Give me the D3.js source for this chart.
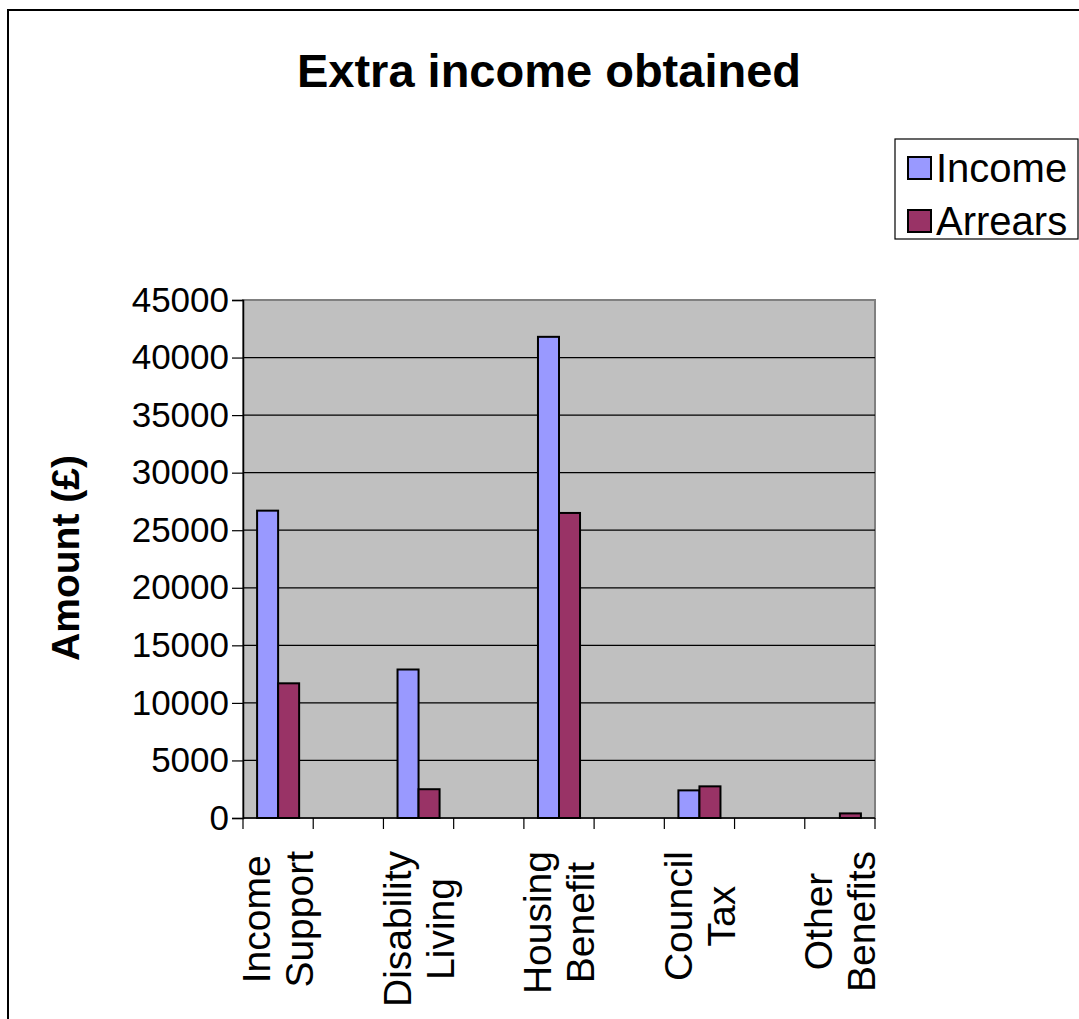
<!DOCTYPE html>
<html>
<head>
<meta charset="utf-8">
<script src="https://cdn.jsdelivr.net/npm/d3@7"></script>
<style>
  html, body { margin: 0; padding: 0; background: #ffffff; }
  svg { display: block; font-family: Arial, "Liberation Sans", sans-serif; }
</style>
</head>
<body>
<svg id="chart" width="1079" height="1019"></svg>
<script>
// ---- data ----
const categories = ["Income Support", "", "Disability Living", "", "Housing Benefit", "", "Council Tax", "", "Other Benefits"];
const categoryLines = [["Income", "Support"], [], ["Disability", "Living"], [], ["Housing", "Benefit"], [], ["Council", "Tax"], [], ["Other", "Benefits"]];
const seriesNames = ["Income", "Arrears"];
const incomeValues = [26700, null, 12900, null, 41800, null, 2400, null, 0];
const arrearsValues = [11700, null, 2500, null, 26500, null, 2750, null, 400];
const yTicks = [0, 5000, 10000, 15000, 20000, 25000, 30000, 35000, 40000, 45000];
const seriesColors = ["#9999FF", "#993366"];
const titleText = "Extra income obtained";
const yTitle = "Amount (£)";

// ---- layout ----
const plot = { left: 243, right: 875, top: 300, bottom: 818 };
const svg = d3.select("#chart");

// outer chart border
svg.append("rect").attr("x", 8).attr("y", 10).attr("width", 1200).attr("height", 1200)
  .attr("fill", "#ffffff").attr("stroke", "#000").attr("stroke-width", 2);

const idx = d3.range(categories.length);
const x = d3.scaleBand().domain(idx).range([plot.left, plot.right]).padding(0);
const xs = d3.scaleBand().domain(seriesNames).range([0, x.bandwidth()]).paddingInner(0).paddingOuter(0.67);
const y = d3.scaleLinear().domain([0, 45000]).range([plot.bottom, plot.top]);

// plot area
svg.append("rect").attr("x", plot.left).attr("y", plot.top)
  .attr("width", plot.right - plot.left).attr("height", plot.bottom - plot.top)
  .attr("fill", "#C0C0C0").attr("stroke", "#808080").attr("stroke-width", 2);

// gridlines
svg.append("g").selectAll("line").data(yTicks.filter(t => t > 0 && t < 45000)).join("line")
  .attr("x1", plot.left).attr("x2", plot.right)
  .attr("y1", d => y(d)).attr("y2", d => y(d))
  .attr("stroke", "#000").attr("stroke-width", 1.2);

// bars
const rows = idx.map(i => ({ i, vals: [incomeValues[i], arrearsValues[i]] }));
const gBars = svg.append("g");
rows.forEach(r => {
  r.vals.forEach((v, s) => {
    if (v === null || v === 0) return;
    gBars.append("rect")
      .attr("x", x(r.i) + xs(seriesNames[s]))
      .attr("y", y(v))
      .attr("width", xs.bandwidth())
      .attr("height", y(0) - y(v))
      .attr("fill", seriesColors[s])
      .attr("stroke", "#000").attr("stroke-width", 2);
  });
});

// y axis
const yAxis = d3.axisLeft(y).tickValues(yTicks).tickSize(11).tickPadding(3).tickFormat(d3.format("d"));
const gy = svg.append("g").attr("transform", `translate(${plot.left},0)`).call(yAxis);
gy.select(".domain").attr("stroke", "#000").attr("stroke-width", 1.5);
gy.selectAll(".tick line").attr("stroke", "#000").attr("stroke-width", 1.2);
gy.selectAll(".tick text").attr("font-size", 35).attr("fill", "#000").attr("font-family", "Arial, 'Liberation Sans', sans-serif");

// x axis (ticks at band boundaries)
const edges = idx.map(i => x(i)).concat([plot.right]);
const gx = svg.append("g");
gx.append("line").attr("x1", plot.left).attr("x2", plot.right)
  .attr("y1", plot.bottom).attr("y2", plot.bottom).attr("stroke", "#000").attr("stroke-width", 1.5);
gx.selectAll(".xt").data(edges).join("line").attr("class", "xt")
  .attr("x1", d => d).attr("x2", d => d)
  .attr("y1", plot.bottom).attr("y2", plot.bottom + 11)
  .attr("stroke", "#000").attr("stroke-width", 1.2);

// category labels (rotated, two lines centered)
const catFont = 39, lineH = 43, labelTop = 851;
idx.forEach(i => {
  const lines = categoryLines[i];
  if (!lines.length) return;
  const cx = x(i) + x.bandwidth() / 2;
  const g = svg.append("g");
  const texts = lines.map((t, k) => g.append("text")
    .attr("font-size", catFont).attr("text-anchor", "middle").attr("dy", "0.35em").text(t));
  const maxW = d3.max(texts, t => t.node().getComputedTextLength());
  const cy = labelTop + maxW / 2;
  texts.forEach((t, k) => {
    const lx = cx + (k - (lines.length - 1) / 2) * lineH;
    t.attr("transform", `translate(${lx},${cy}) rotate(-90)`);
  });
});

// title
svg.append("text").attr("x", 549).attr("y", 87).attr("text-anchor", "middle")
  .attr("font-size", 47).attr("font-weight", "bold").text(titleText);

// y axis title
svg.append("text").attr("transform", "translate(79,558) rotate(-90)")
  .attr("text-anchor", "middle").attr("font-size", 39).attr("font-weight", "bold").text(yTitle);

// legend
const lg = svg.append("g");
lg.append("rect").attr("x", 895).attr("y", 139).attr("width", 183).attr("height", 100)
  .attr("fill", "#fff").attr("stroke", "#000").attr("stroke-width", 1.2);
seriesNames.forEach((name, s) => {
  const ry = 168 + s * 53;
  lg.append("rect").attr("x", 908).attr("y", ry - 11).attr("width", 23).attr("height", 22)
    .attr("fill", seriesColors[s]).attr("stroke", "#000").attr("stroke-width", 2);
  lg.append("text").attr("x", 936).attr("y", ry).attr("dy", "0.35em")
    .attr("font-size", 40).text(name);
});
</script>
</body>
</html>
